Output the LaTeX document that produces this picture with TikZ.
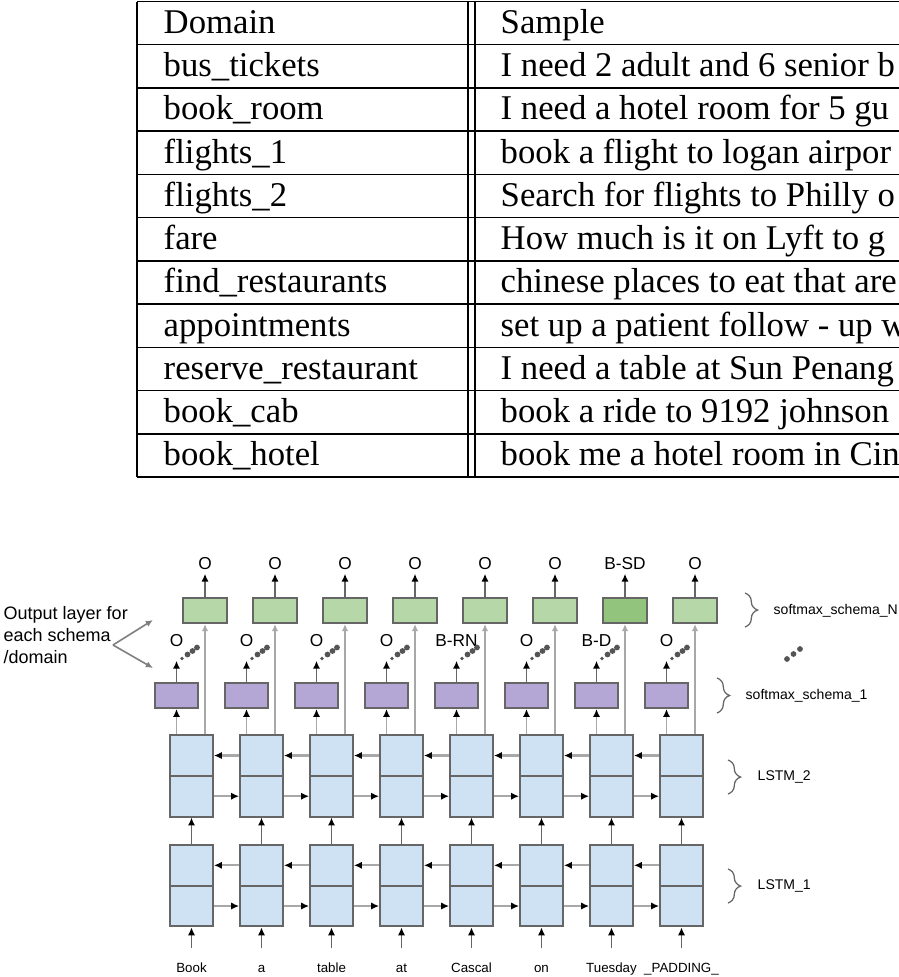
\documentclass[tikz,border=0pt]{standalone}
\usepackage{fontspec}
\setmainfont{Liberation Serif}
\newfontfamily\diagfont{Liberation Sans}
\usetikzlibrary{arrows.meta,decorations.pathreplacing}

\definecolor{cellblue}{HTML}{CFE2F3}
\definecolor{softpurple}{HTML}{B4A7D6}
\definecolor{softgreen}{HTML}{B6D7A8}
\definecolor{darkgreen}{HTML}{93C47D}
\definecolor{edgegray}{HTML}{666666}
\definecolor{wiregray}{HTML}{A8A8A8}
\definecolor{dotgray}{HTML}{555555}

\tikzset{
  tablerule/.style={line width=0.4pt},
  tabtext/.style={inner sep=0pt,anchor=base west,font=\fontsize{9.64}{11}\selectfont},
  cell/.style={draw=edgegray,line width=0.55pt,fill=cellblue,minimum width=11.9pt,minimum height=11.3pt,inner sep=0pt},
  softbox/.style={draw=edgegray,line width=0.55pt,minimum width=12.2pt,minimum height=6.95pt,inner sep=0pt},
  taglabel/.style={inner sep=0pt,anchor=base,text height=3.5pt,text depth=0pt,font=\diagfont\fontsize{4.8}{5.5}\selectfont},
  wordlabel/.style={inner sep=0pt,anchor=base,text height=2.7pt,text depth=0.8pt,font=\diagfont\fontsize{3.7}{4.3}\selectfont},
  bracelabel/.style={inner sep=0pt,anchor=west,font=\diagfont\fontsize{3.9}{4.5}\selectfont},
  annot/.style={inner sep=0pt,anchor=north west,align=left,font=\diagfont\fontsize{5}{6.1}\selectfont},
  blackhead/.style={-{Latex[length=2.2pt,width=2pt,color=black]}},
  dkarrow/.style={draw=edgegray,line width=0.55pt,blackhead},
  hwire/.style={draw=wiregray,line width=0.6pt,blackhead},
  upwire/.style={draw=wiregray,line width=0.55pt},
  bracewire/.style={draw=edgegray,line width=0.35pt,decorate,decoration={brace,amplitude=3.5pt}},
  annarrow/.style={draw=gray,line width=0.45pt,-{Latex[length=2pt,width=1.8pt]}}
}

\begin{document}
\begin{tikzpicture}[x=0.2778pt,y=-0.2778pt]
\useasboundingbox (0,0) rectangle (899,977);
\clip (0,0) rectangle (899,977);

% table of domains
\foreach \r in {0,...,11}
  \draw[tablerule] (137,1.5+43.23*\r) -- (905,1.5+43.23*\r);
\draw[tablerule] (137,1.5) -- (137,477) (468,1.5) -- (468,477) (475,1.5) -- (475,477);
\foreach \r/\dom/\smp in {0/Domain/Sample,
  1/bus\_tickets/I need 2 adult and 6 senior b,
  2/book\_room/I need a hotel room for 5 gu,
  3/flights\_1/book a flight to logan airpor,
  4/flights\_2/Search for flights to Philly o,
  5/fare/How much is it on Lyft to g,
  6/find\_restaurants/chinese places to eat that are,
  7/appointments/set up a patient follow - up w,
  8/reserve\_restaurant/I need a table at Sun Penang,
  9/book\_cab/book a ride to 9192 johnson,
  10/book\_hotel/book me a hotel room in Cin}{
  \node[tabtext] (dom\r) at (163,33.5+43.23*\r) {\dom};
  \node[tabtext] (smp\r) at (500,33.5+43.23*\r) {\smp};
}

% network columns
\foreach \i/\word/\ptag/\gtag/\gfill in {0/Book/O/O/softgreen,1/a/O/O/softgreen,
  2/table/O/O/softgreen,3/at/O/O/softgreen,4/Cascal/B-RN/O/softgreen,
  5/on/O/O/softgreen,6/Tuesday/B-D/B-SD/darkgreen,7/\_PADDING\_/O/O/softgreen}{
  \node[cell] (l2t\i) at (191.5+70*\i,755.5) {};
  \node[cell] (l2b\i) at (191.5+70*\i,796.2) {};
  \node[cell] (l1t\i) at (191.5+70*\i,865.3) {};
  \node[cell] (l1b\i) at (191.5+70*\i,906) {};
  \node[softbox,fill=softpurple] (sp\i) at (176.5+70*\i,695.5) {};
  \node[softbox,fill=\gfill] (sg\i) at (205+70*\i,610.5) {};
  \node[taglabel] (tp\i) at (176.5+70*\i,646) {\ptag};
  \node[taglabel] (tg\i) at (205+70*\i,569) {\gtag};
  \node[wordlabel] (w\i) at (191.5+70*\i,972) {\word};
  \draw[dkarrow,shorten <=3.7pt] (w\i.north) -- (l1b\i.south);
  \draw[dkarrow] (l1t\i.north) -- (l2b\i.south);
  \draw[upwire,blackhead] (l2t\i.north -| sp\i) -- (sp\i.south);
  \draw[upwire,-{Latex[length=2pt,width=1.8pt]}] (l2t\i.north -| sg\i) -- (sg\i.south);
  \draw[dkarrow,shorten >=3.9pt] (sp\i.north) -- (tp\i.south);
  \draw[dkarrow,shorten >=1.1pt] (sg\i.north) -- (tg\i.south);
  % dots towards the other schemas
  \fill[dotgray] (sp\i.north) ++(5.5,-23.5) circle (0.55pt) ++(5.5,-4) circle (0.8pt)
    ++(5,-3.5) circle (0.8pt) ++(4.5,-3.5) circle (0.8pt);
}
\foreach \i [count=\j from 1] in {0,...,6}{
  \draw[hwire] (l2t\j.west) -- (l2t\i.east);
  \draw[hwire] (l2b\i.east) -- (l2b\j.west);
  \draw[hwire] (l1t\j.west) -- (l1t\i.east);
  \draw[hwire] (l1b\i.east) -- (l1b\j.west);
}

% layer braces
\draw[bracewire] (745,593) -- (745,627);
\node[bracelabel] (bN) at (773,610.5) {softmax\_schema\_N};
\draw[bracewire] (717,678) -- (717,713);
\node[bracelabel] (b1) at (745,695.5) {softmax\_schema\_1};
\draw[bracewire] (728,760) -- (728,794);
\node[bracelabel] (bL2) at (757,777) {LSTM\_2};
\draw[bracewire] (728,869) -- (728,903);
\node[bracelabel] (bL1) at (757,886) {LSTM\_1};
\fill[dotgray] (787,659) circle (0.8pt) (793.5,654) circle (0.8pt) (800,649) circle (0.8pt);

% side note
\node[annot] (ann) at (3,605.5) {Output layer for\\each schema\\/domain};
\coordinate (fork) at (113,645);
\coordinate (forkup) at (153,620);
\coordinate (forkdn) at (153,668);
\draw[annarrow] (fork) -- (forkup);
\draw[annarrow] (fork) -- (forkdn);
\end{tikzpicture}
\end{document}
